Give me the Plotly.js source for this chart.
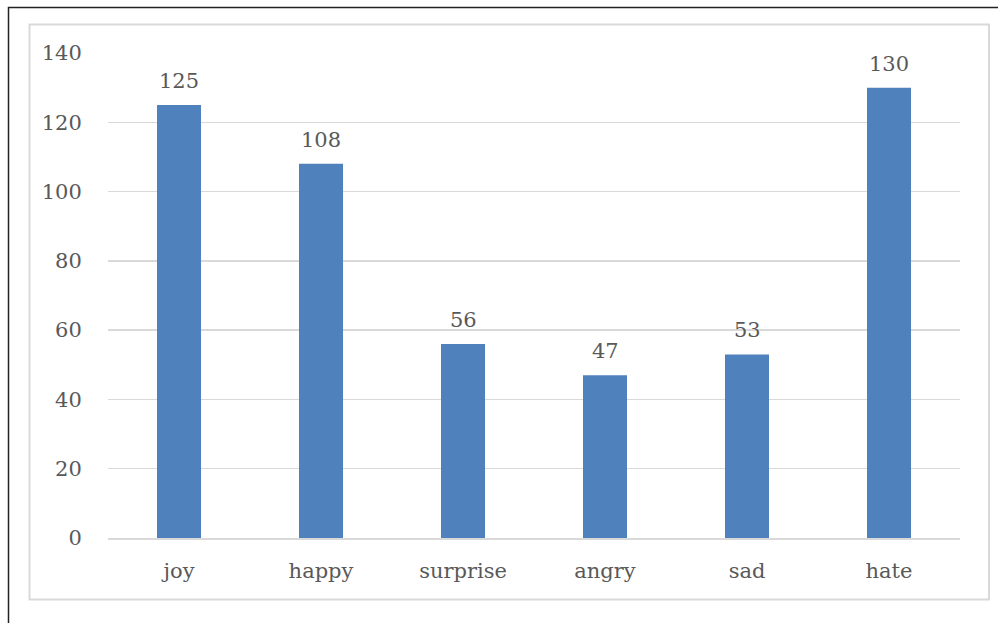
<!DOCTYPE html>
<html><head><meta charset="utf-8">
<script src="https://cdn.plot.ly/plotly-3.0.1.min.js"></script>
<style>html,body{margin:0;padding:0;background:#fff;}#chart{width:998px;height:623px;}</style>
</head><body><div id="chart"></div>
<script>
const categories = ["joy", "happy", "surprise", "angry", "sad", "hate"];
const counts = [125, 108, 56, 47, 53, 130];
const yTicks = [0, 20, 40, 60, 80, 100, 120, 140];

const fontFam = "DejaVu Serif";
const textColor = "#595959";
const fsize = 21;

const trace = {
  type: "bar",
  x: categories,
  y: counts,
  marker: {color: "#4F81BD"},
  hoverinfo: "x+y"
};

const annotations = categories.map((c, i) => ({
  x: c, y: counts[i], xref: "x", yref: "y",
  text: String(counts[i]), showarrow: false,
  yanchor: "bottom", yshift: 10,
  font: {family: fontFam, size: fsize, color: textColor}
}));

const layout = {
  width: 998, height: 623,
  margin: {l: 108, r: 38, t: 53, b: 85},
  paper_bgcolor: "#fff", plot_bgcolor: "#fff",
  bargap: 0.69,
  showlegend: false,
  font: {family: fontFam, size: fsize, color: textColor},
  xaxis: {
    type: "category",
    showgrid: false, zeroline: false,
    showline: true, linecolor: "#D9D9D9", linewidth: 2,
    ticks: "outside", ticklen: 13, tickcolor: "rgba(0,0,0,0)",
    tickfont: {family: fontFam, size: fsize, color: textColor}
  },
  yaxis: {
    range: [0, 140],
    tickvals: yTicks,
    showgrid: true, gridcolor: "#D9D9D9", gridwidth: 1.5,
    zeroline: false, showline: false,
    ticks: "outside", ticklen: 21, tickcolor: "rgba(0,0,0,0)",
    tickfont: {family: fontFam, size: fsize, color: textColor}
  },
  annotations: annotations,
  shapes: [
    {type: "rect", xref: "paper", yref: "paper",
     x0: (8.5-108)/852, x1: (1005-108)/852,
     y0: (538-630)/485, y1: (538-7.5)/485,
     line: {color: "#222", width: 1.5}, fillcolor: "rgba(0,0,0,0)", layer: "below"},
    {type: "rect", xref: "paper", yref: "paper",
     x0: (29.5-108)/852, x1: (989-108)/852,
     y0: (538-599.5)/485, y1: (538-24.5)/485,
     line: {color: "#D9D9D9", width: 2}, fillcolor: "rgba(0,0,0,0)", layer: "below"}
  ]
};

Plotly.newPlot("chart", [trace], layout, {displayModeBar: false, staticPlot: true});
</script></body></html>
